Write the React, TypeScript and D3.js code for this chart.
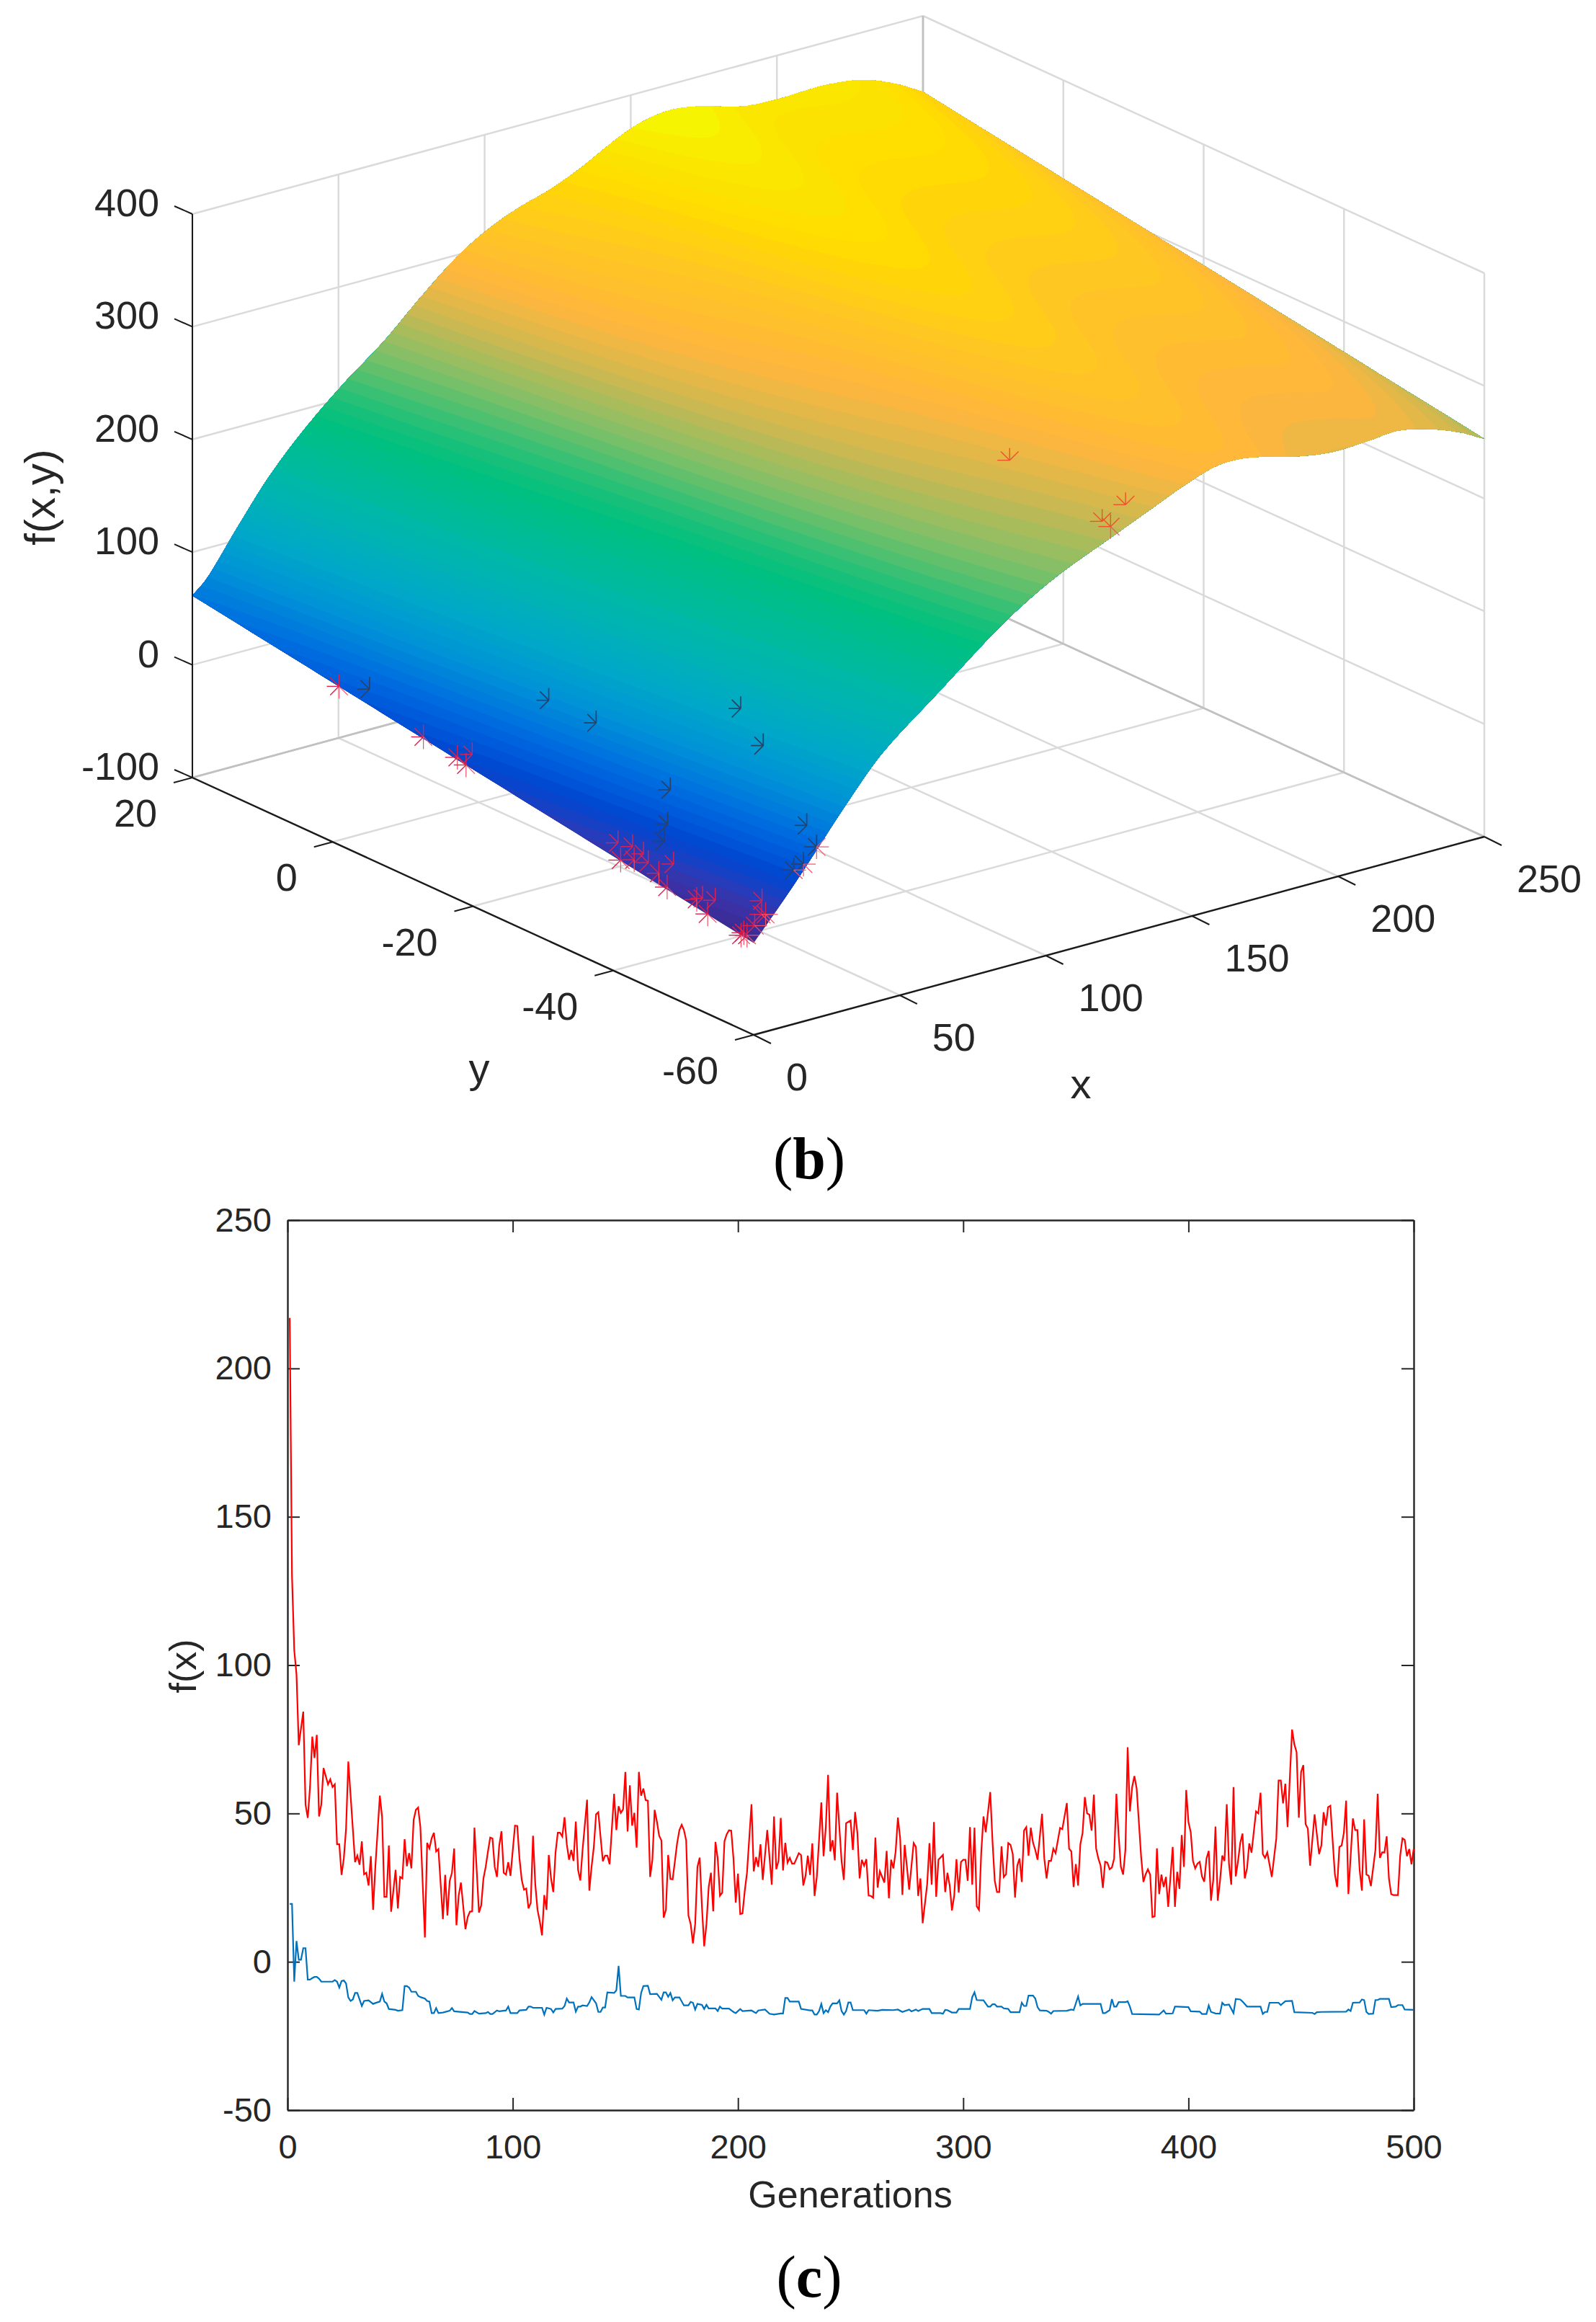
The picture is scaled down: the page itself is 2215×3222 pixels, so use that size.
import React, { useEffect, useRef } from 'react';
import * as d3 from 'd3';

// ---- (b) surface, values
const xTicks = [0, 50, 100, 150, 200, 250];
const yTicks = [20, 0, -20, -40, -60];
const zTicks = [-100, 0, 100, 200, 300, 400];

// height of the surface along the y=-60 edge
const nearX = [0, 13.6, 32.5, 44, 63, 86, 103, 122, 136, 148.4, 158.8, 169.4, 185, 197.4, 209.8, 220, 229.7, 241.3, 250];
const nearZ = [-18.5, 23, 85, 119, 159, 206, 233, 255, 271, 285, 293.6, 293, 283, 278, 279, 281, 276, 265, 253];
// height of the surface along the y=20 edge
const farX = [0, 5.2, 15.5, 25.9, 37.9, 51.7, 65.5, 77.6, 89.9, 100.2, 110.6, 122.7, 133, 143.3, 152, 162.3, 172.7, 188.4, 200.5, 215.8, 228.8, 240, 250];
const farZ = [61.5, 74, 111.5, 147.5, 181, 213, 241, 270, 297, 314, 326, 336, 347.6, 362, 372, 377, 374, 363, 361, 362, 358, 347, 332.5];

const colorZ = [-18, 0, 12, 25, 50, 80, 110, 150, 190, 205, 235, 265, 290, 320, 345, 365, 377];
const colorHex = ['#3b2a8e', '#3c33a8', '#1f3fc0', '#0046d0', '#0068e0', '#0090d8', '#00a8c8', '#00b8a8', '#00c080', '#20c078', '#80c068', '#d0b850', '#ffb63c', '#ffc820', '#ffdc00', '#fae800', '#f4f800'];
const colorLevels = 64;

// population markers, [x, y]
const navyPoints = [[3, -4], [18.7, -23], [19.8, -29.3], [36.6, -42.9], [32.8, -47.7], [16.6, -41.2], [10.9, -43.2], [7.8, -44], [24.4, -57.4], [22, -59.8], [18, -59.6], [16.1, -59]];
const redPoints = [[0, -0.9], [0.3, -12.8], [0.4, -17.6], [0, -19], [2.6, -18.8], [2.8, -39.5], [3.7, -41.2], [3.6, -42.8], [2.6, -43.9], [1.6, -42.3], [0.1, -41], [1.9, -45.7], [5, -46.5], [0.4, -47.5], [2.2, -51.8], [3.2, -53.2], [1.4, -51.3], [0.1, -53.4], [7.9, -57.9], [6, -59.2], [5.6, -58.8], [3, -58.9], [0.6, -58.8], [0.7, -58.3], [0, -58.2]];
const orangePoints = [[126, -44], [133, -57.6], [125, -57.6], [125, -58.8]];

// ---- (c) convergence curves, [generation, f(x)]
const genTicks = [0, 100, 200, 300, 400, 500];
const fTicks = [-50, 0, 50, 100, 150, 200, 250];

const redCurve = [[1, 217], [2, 130], [3, 105], [4, 96.8], [5, 73], [7, 84.3], [8, 53], [9, 48.5], [10, 58.9], [11, 75.9], [12, 68.7], [13, 76.5], [14, 49], [15, 53], [16, 65.3], [18, 59.8], [19, 61.5], [20, 58.9], [21, 59.8], [22, 39.6], [23, 39.6], [24, 29.3], [25, 34.8], [26, 44.9], [27, 67.5], [30, 33.6], [31, 35.8], [32, 32.7], [33, 40.6], [34, 29.5], [35, 30], [36, 25.7], [37, 35.6], [38, 17.5], [39, 32], [41, 56], [42, 48.8], [43, 21.9], [44, 21.9], [45, 39.2], [46, 16.9], [48, 31], [49, 18], [50, 28.6], [51, 28.1], [52, 41.3], [53, 32.2], [54, 36.6], [55, 31.5], [56, 47.8], [57, 51.2], [58, 52], [59, 45.4], [61, 8.2], [62, 40.1], [63, 38.2], [64, 41.6], [65, 43.5], [66, 37.2], [67, 38], [69, 14.4], [70, 29.3], [71, 15.6], [72, 27.2], [73, 30], [74, 38.2], [75, 12.3], [76, 22.3], [77, 26.7], [79, 11], [80, 15.1], [81, 16.9], [82, 17], [83, 45.2], [85, 16.6], [86, 19], [87, 28.1], [88, 32], [89, 37.2], [90, 41.9], [91, 41.6], [92, 32], [93, 28.6], [94, 39.2], [95, 44], [96, 30], [97, 29.4], [98, 33.6], [99, 29], [101, 45.9], [102, 45.8], [103, 34.8], [104, 27.6], [105, 24.3], [106, 24.7], [107, 18], [108, 19.9], [109, 42.5], [110, 26.2], [111, 17.5], [112, 13.7], [113, 8.9], [114, 22.5], [115, 17.5], [116, 36], [117, 28.1], [118, 23.5], [119, 36.8], [120, 43.5], [121, 43.5], [122, 42.2], [123, 48.7], [124, 39.6], [125, 34.4], [126, 37.7], [127, 34], [128, 47.3], [129, 31], [130, 27.4], [131, 37.7], [133, 54.6], [134, 24], [135, 32], [136, 38.7], [137, 49.7], [138, 50.4], [139, 42], [140, 33.9], [141, 35.8], [142, 35.8], [143, 32.9], [145, 56.6], [146, 44.4], [147, 52.4], [148, 50.2], [149, 51.4], [150, 64], [151, 43.9], [152, 59.5], [153, 45.9], [154, 50.2], [155, 38.5], [156, 64], [157, 56], [158, 58.4], [159, 54.5], [160, 54.3], [161, 28.6], [162, 34.4], [163, 51.2], [164, 47.3], [165, 42.5], [166, 40.9], [167, 14.9], [168, 17.5], [169, 36], [170, 27.9], [171, 27.8], [172, 33.9], [173, 40.1], [174, 44.4], [175, 46.2], [176, 44.4], [177, 40.9], [178, 15.6], [179, 12.7], [180, 6.2], [181, 12.7], [182, 32], [183, 35.1], [184, 18.5], [185, 5.2], [186, 12.7], [187, 25.2], [188, 30], [189, 17], [190, 40.4], [191, 34.8], [192, 22.3], [193, 23.3], [194, 40.6], [195, 43], [196, 44.3], [197, 44.2], [198, 34.8], [199, 19.9], [200, 29.7], [201, 16.1], [202, 16.3], [203, 23.8], [204, 30], [206, 53.1], [207, 30.5], [208, 35.3], [209, 32], [210, 39.6], [211, 27.6], [213, 44.4], [215, 26], [216, 49], [217, 31.2], [218, 34], [219, 48.5], [220, 30.8], [221, 40.1], [222, 33.4], [223, 35], [224, 33.1], [225, 33.1], [226, 34.8], [227, 36.6], [228, 36], [229, 25.7], [230, 29], [231, 35.8], [232, 29.3], [233, 39.9], [234, 22.2], [235, 28.6], [237, 53.7], [238, 35.6], [239, 45.4], [240, 63], [241, 37.2], [242, 41], [243, 34.2], [244, 57], [245, 45.4], [246, 33.9], [247, 27.6], [248, 46.7], [250, 47.6], [251, 37.7], [252, 50.5], [253, 43.5], [254, 28.1], [255, 34.4], [256, 32.4], [257, 34.6], [258, 22.3], [259, 22.2], [260, 21.6], [261, 41.9], [262, 25], [263, 30.5], [265, 26.7], [266, 37.4], [267, 21.4], [268, 34.4], [269, 31.5], [270, 37.2], [271, 48.6], [272, 41.6], [273, 22.5], [274, 39.4], [275, 32], [276, 24.3], [278, 40], [279, 38.7], [280, 22.2], [281, 28.1], [282, 13], [284, 26.2], [285, 40], [286, 26], [287, 47.1], [288, 21.9], [289, 34.4], [291, 36], [292, 23.5], [293, 30], [294, 25.7], [295, 17.3], [296, 22.3], [297, 34.6], [298, 23.3], [299, 33.6], [300, 34.4], [301, 34.4], [302, 27.3], [303, 45.4], [304, 26], [305, 45.2], [306, 18.7], [307, 17.5], [308, 36.8], [309, 49], [310, 43.7], [312, 57.2], [313, 40.6], [314, 27.3], [315, 23.5], [316, 23.5], [317, 38.9], [318, 28.6], [319, 29.5], [320, 40], [321, 39.4], [322, 36.3], [323, 21.7], [324, 32.4], [325, 34.8], [326, 26.9], [327, 44.2], [328, 45.4], [329, 35.8], [330, 45.2], [331, 40.1], [332, 37.7], [333, 34.4], [335, 49.9], [336, 34.8], [337, 28.1], [338, 34], [339, 34], [340, 38.1], [341, 36.6], [343, 45.1], [344, 44.7], [346, 53.5], [347, 38.1], [348, 37.2], [349, 25.2], [350, 32.9], [351, 25.7], [352, 39.6], [353, 43.5], [354, 55.5], [355, 50], [356, 49.6], [357, 44.2], [358, 56.3], [359, 38.2], [360, 34.8], [361, 32.4], [362, 24.9], [363, 33.7], [364, 33.4], [365, 31.2], [366, 31.8], [367, 34.8], [368, 56.6], [369, 42.5], [370, 32], [371, 29.4], [372, 37.7], [373, 72.3], [374, 50.7], [375, 58.9], [376, 62.6], [377, 58.4], [379, 35.3], [380, 26.9], [381, 29.5], [382, 31.2], [383, 29.3], [384, 15.1], [385, 15.3], [386, 38.2], [387, 22.8], [388, 29.4], [389, 25.2], [390, 28.6], [391, 18.5], [393, 38.7], [394, 18.5], [395, 30.3], [396, 24.6], [397, 42.7], [398, 32], [399, 57.9], [400, 47.1], [401, 43.7], [402, 34], [403, 31.5], [404, 33.1], [405, 33.7], [406, 28.8], [407, 27], [408, 34.8], [409, 37.4], [410, 20.6], [411, 27.6], [412, 45.6], [413, 20.6], [414, 27.2], [415, 35.8], [416, 34], [417, 53.1], [418, 32.9], [419, 26], [420, 58.9], [421, 28.8], [422, 33.9], [423, 40.1], [424, 43.2], [425, 28.1], [426, 31.5], [427, 39.9], [428, 36.8], [430, 50.7], [431, 50], [432, 57], [433, 36.3], [434, 35], [435, 36.9], [437, 28.6], [439, 41.6], [440, 61.1], [441, 61.1], [442, 53.4], [443, 60], [444, 45.4], [446, 78.3], [447, 73.3], [448, 70.7], [449, 48.6], [450, 64], [451, 66.3], [452, 46.4], [453, 44.9], [454, 32.4], [456, 49.7], [458, 36.3], [459, 39.2], [460, 50.4], [461, 45.9], [462, 52.1], [463, 52.6], [465, 29.5], [466, 25.2], [467, 38.7], [468, 39.2], [469, 43.5], [470, 54.3], [471, 22.8], [473, 48.3], [474, 44.4], [475, 44.4], [476, 31], [477, 24], [478, 48], [479, 29.4], [480, 29], [481, 25.5], [483, 37.7], [484, 56.6], [485, 35], [486, 36.9], [487, 36.8], [488, 42.3], [489, 28.1], [490, 22.8], [491, 22.5], [493, 22.5], [494, 35.8], [495, 41.6], [496, 41.1], [497, 35.6], [498, 38], [499, 32.9], [500, 38]];

const blueCurve = [[1, 19.5], [2, 19.5], [3, -6.7], [4, 7], [5, 0.7], [6, 0.7], [7, 4.6], [8, 4.6], [9, -6], [10, -6], [11, -5.5], [12, -5.1], [13, -5.1], [14, -5.7], [15, -6.7], [20, -6.7], [21, -6.2], [22, -6.7], [23, -8.7], [24, -6.5], [25, -6.3], [26, -7.3], [27, -12], [28, -13.2], [29, -12.7], [30, -10.5], [31, -10.5], [32, -12.7], [33, -14.9], [34, -13.2], [36, -13], [38, -14.2], [39, -13.9], [41, -13.4], [42, -10.8], [43, -13.4], [44, -14], [45, -15.9], [48, -16.2], [49, -16.5], [51, -16.3], [52, -8.2], [53, -8.2], [54, -8.7], [55, -10.1], [57, -10.1], [58, -11.5], [59, -11.9], [61, -12.4], [62, -13.2], [63, -13.4], [64, -17.3], [65, -17.3], [66, -15.6], [67, -17.3], [69, -17.1], [72, -16.5], [73, -15.6], [74, -16.7], [80, -17.1], [81, -17.6], [82, -17.6], [83, -16.6], [85, -17.5], [88, -17.3], [89, -16.9], [90, -17.6], [91, -17.6], [93, -16.4], [94, -16.7], [97, -16.4], [98, -15.1], [99, -17.3], [102, -17.3], [103, -16.4], [106, -16.2], [107, -15.1], [108, -15.1], [109, -15.5], [113, -15.5], [114, -17.8], [115, -15.5], [117, -15.9], [118, -17.1], [119, -15.9], [122, -15.8], [123, -14.9], [124, -12.4], [125, -13.7], [127, -13.7], [128, -16.8], [129, -15.1], [130, -15.1], [131, -14.7], [133, -14.9], [134, -13.7], [135, -11.9], [137, -14], [138, -16.9], [139, -16.9], [140, -15.4], [141, -15.4], [142, -10.3], [145, -10.5], [146, -9.6], [147, -1.4], [148, -11.5], [150, -11.5], [151, -12], [154, -12], [155, -15.9], [156, -16.1], [157, -10.5], [158, -8.2], [160, -8.1], [161, -10.9], [164, -10.8], [166, -12.8], [167, -10.3], [168, -10.3], [169, -11.8], [170, -10.5], [171, -13], [172, -12], [174, -12], [176, -14.7], [178, -14.7], [179, -13.5], [180, -13.8], [181, -16.1], [182, -14.2], [184, -14.5], [185, -15.9], [186, -14.5], [187, -15.7], [190, -15.7], [191, -16.6], [192, -15.1], [193, -15.8], [196, -15.8], [198, -16.9], [199, -17.3], [201, -15.9], [202, -16.6], [206, -16.4], [208, -17.3], [209, -16.4], [212, -16.1], [214, -17.5], [216, -17.8], [219, -17.4], [220, -17.4], [221, -12.2], [222, -12.2], [223, -13.4], [227, -13.4], [228, -15.9], [232, -16.4], [233, -16.4], [234, -17.8], [235, -17.8], [236, -16.6], [237, -14.2], [238, -17.3], [239, -16.3], [240, -17], [241, -15.1], [242, -14], [244, -14], [245, -13], [246, -16.6], [247, -17.8], [248, -16.6], [249, -13.7], [250, -13.7], [251, -16.3], [256, -16.3], [257, -17.5], [258, -16.3], [262, -16.5], [264, -16.2], [269, -16.3], [271, -16.1], [273, -16.9], [276, -16.1], [277, -16.7], [279, -16.1], [280, -16.6], [282, -15.9], [285, -15.9], [286, -17.3], [290, -17.3], [291, -17.5], [292, -16.2], [293, -16.3], [295, -17.1], [297, -17.1], [298, -15.9], [303, -15.9], [304, -11.9], [305, -10.3], [306, -12.9], [309, -13], [311, -15.1], [312, -15.1], [313, -14.3], [314, -14.3], [315, -15.1], [317, -15.1], [318, -15.7], [320, -15.9], [321, -17], [325, -17], [326, -13.8], [327, -14.9], [328, -14.9], [329, -11.4], [331, -11.4], [332, -12.4], [333, -15.3], [334, -16.4], [337, -16.5], [338, -16.9], [339, -17.5], [340, -16.6], [346, -16.5], [348, -16.1], [349, -16.3], [351, -11.7], [352, -14.7], [353, -14.2], [361, -14.2], [362, -17.3], [363, -17.3], [365, -16.3], [366, -12.6], [367, -15.1], [368, -15.1], [369, -13.6], [372, -13.6], [373, -13.3], [374, -15.1], [375, -17.6], [387, -17.8], [389, -16.4], [390, -17.5], [393, -17.4], [394, -15.1], [395, -15.1], [400, -15.3], [401, -16.7], [405, -16.8], [406, -17.6], [408, -17.6], [409, -14.7], [410, -16.9], [412, -17.4], [414, -17.5], [415, -13.8], [416, -14.6], [418, -14.4], [420, -17.3], [421, -12.5], [423, -12.7], [424, -13.4], [426, -15.1], [432, -15.1], [433, -17.6], [434, -16.9], [435, -16.9], [436, -13.8], [440, -13.8], [441, -14.6], [443, -13.3], [446, -13.2], [447, -17], [455, -17.2], [456, -17.6], [457, -17], [459, -16.9], [470, -16.8], [471, -16.1], [472, -16.6], [473, -13.8], [476, -13.7], [477, -12.7], [478, -12.9], [479, -16.9], [480, -17.6], [482, -17.5], [483, -12.9], [484, -12.9], [485, -12.5], [489, -12.5], [490, -15.3], [492, -15.1], [493, -14.6], [495, -14.6], [496, -16.1], [500, -16.2]];

// catmull-rom through the read points, keeps the edges smooth
const smoothEdge = (xs: number[], zs: number[]) => (x: number) => {
  const i = Math.min(xs.length - 2, Math.max(0, d3.bisectRight(xs, x) - 1));
  const h = xs[i + 1] - xs[i];
  const t = (x - xs[i]) / h;
  const slope = (k: number) => {
    const a = Math.max(0, k - 1), b = Math.min(xs.length - 1, k + 1);
    return (zs[b] - zs[a]) / (xs[b] - xs[a]);
  };
  const t2 = t * t, t3 = t2 * t;
  return (2 * t3 - 3 * t2 + 1) * zs[i] + (t3 - 2 * t2 + t) * h * slope(i) + (-2 * t3 + 3 * t2) * zs[i + 1] + (t3 - t2) * h * slope(i + 1);
};
const nearAt = smoothEdge(nearX, nearZ);
const farAt = smoothEdge(farX, farZ);
const surfaceZ = (x: number, y: number) => nearAt(x) + ((y + 60) / 80) * (farAt(x) - nearAt(x));

const App = () => {
  const svgRef = useRef<SVGSVGElement>(null);

  useEffect(() => {
    const svg = d3.select(svgRef.current);
    svg.selectAll('*').remove();
    const sans = '"Liberation Sans", Arial, sans-serif';
    const ink = '#262626';

    // ---------- panel (b): parallel projection of the 3D box
    const xToPx = d3.scaleLinear([0, 250], [0, 1014]);
    const xToPy = d3.scaleLinear([0, 250], [0, -275]);
    const yToPx = d3.scaleLinear([-60, 20], [0, -779]);
    const yToPy = d3.scaleLinear([-60, 20], [0, -357]);
    const zToPy = d3.scaleLinear([-100, 400], [0, -782]);
    const project = (x: number, y: number, z: number): [number, number] => [
      1046 + xToPx(x) + yToPx(y),
      1436 + xToPy(x) + yToPy(y) + zToPy(z),
    ];
    const colour = d3.scaleLinear<string>().domain(colorZ).range(colorHex).clamp(true);

    const box = svg.append('g');
    const seg = (g: any, a: [number, number], b: [number, number], stroke: string, w: number) =>
      g.append('line').attr('x1', a[0]).attr('y1', a[1]).attr('x2', b[0]).attr('y2', b[1])
        .attr('stroke', stroke).attr('stroke-width', w);

    const grid = '#dadada';
    xTicks.forEach(x => {
      seg(box, project(x, -60, -100), project(x, 20, -100), grid, 2.5);
      seg(box, project(x, 20, -100), project(x, 20, 400), grid, 2.5);
    });
    yTicks.forEach(y => {
      seg(box, project(0, y, -100), project(250, y, -100), grid, 2.5);
      seg(box, project(250, y, -100), project(250, y, 400), grid, 2.5);
    });
    zTicks.forEach(z => {
      seg(box, project(0, 20, z), project(250, 20, z), grid, 2.5);
      seg(box, project(250, 20, z), project(250, -60, z), grid, 2.5);
    });
    seg(box, project(0, 20, -100), project(250, 20, -100), '#c0c0c0', 2.5);
    seg(box, project(250, 20, -100), project(250, -60, -100), '#c0c0c0', 2.5);
    seg(box, project(250, 20, -100), project(250, 20, 400), '#c0c0c0', 2.5);

    // surface: filled colour bands, one per colormap level, from d3.contours on an x-y grid
    const gridX = d3.range(0, 250.5, 1);
    const gridY = d3.range(-60, 20.5, 1);
    const heights: number[] = [];
    gridY.forEach(y => gridX.forEach(x => heights.push(surfaceZ(x, y))));
    const zLo = d3.min(heights) as number;
    const zHi = d3.max(heights) as number;
    const step = (zHi - zLo) / colorLevels;
    const levels = d3.range(colorLevels).map(k => zLo - 0.01 + k * step);
    const bands = d3.contours().size([gridX.length, gridY.length]).thresholds(levels)(heights);
    const toScreen = d3.geoTransform({
      point(cx: number, cy: number) {
        const x = Math.max(0, Math.min(250, cx - 0.5));
        const y = Math.max(-60, Math.min(20, -60 + cy - 0.5));
        const p = project(x, y, surfaceZ(x, y));
        this.stream.point(p[0], p[1]);
      },
    });
    const bandPath = d3.geoPath(toScreen);
    svg.append('g').selectAll('path').data(bands).join('path')
      .attr('d', (d: any) => bandPath(d))
      .attr('fill', (d: any) => colour(d.value + step / 2));

    // silhouette of the surface, used to tell which marker rays stick out of it
    const outline: [number, number][] = [
      ...d3.range(0, 251, 5).map(x => project(x, -60, nearAt(x))),
      ...d3.range(250, -1, -5).map(x => project(x, 20, farAt(x))),
    ];

    const rayLen = 17;
    const diag = rayLen * 0.72;
    const frontRays = [[0, -rayLen], [-rayLen, 0], [-diag, -diag], [-diag, diag]];
    const backRays = [[0, rayLen], [rayLen, 0], [diag, diag], [diag, -diag]];
    const drawMarkers = (points: number[][], rays: number[][], stroke: string, w: number) => {
      points.forEach(([x, y]) => {
        const c = project(x, y, surfaceZ(x, y));
        rays.forEach(r => seg(svg, c, [c[0] + r[0], c[1] + r[1]], stroke, w));
        backRays.forEach(r => {
          const end: [number, number] = [c[0] + r[0], c[1] + r[1]];
          if (!d3.polygonContains(outline, end)) seg(svg, c, end, '#f2506a', 1.2);
        });
      });
    };
    drawMarkers(navyPoints, frontRays, '#2a4268', 1.7);
    drawMarkers(redPoints, frontRays, '#e0204e', 1.4);
    drawMarkers(orangePoints, [[0, -rayLen], [-rayLen, 0], [-diag, -diag], [diag, -diag]], '#f0502a', 1.4);

    // black axes
    const black = '#1a1a1a';
    seg(svg, project(0, 20, -100), project(0, 20, 400), black, 2);
    seg(svg, project(0, 20, -100), project(0, -60, -100), black, 2.4);
    seg(svg, project(0, -60, -100), project(250, -60, -100), black, 2.4);
    zTicks.forEach(z => {
      const a = project(0, 20, z);
      seg(svg, a, [a[0] - 25, a[1] - 11], black, 2);
      svg.append('text').attr('x', a[0] - 46).attr('y', a[1] + 3).attr('text-anchor', 'end')
        .attr('font-family', sans).attr('font-size', 54).attr('fill', ink).text(z);
    });
    yTicks.forEach(y => {
      const a = project(0, y, -100);
      seg(svg, a, [a[0] - 26, a[1] + 7], black, 2);
      svg.append('text').attr('x', a[0] - 49).attr('y', a[1] + 68).attr('text-anchor', 'end')
        .attr('font-family', sans).attr('font-size', 54).attr('fill', ink).text(y);
    });
    xTicks.forEach(x => {
      const a = project(x, -60, -100);
      seg(svg, a, [a[0] + 24, a[1] + 12], black, 2);
      svg.append('text').attr('x', a[0] + 45).attr('y', a[1] + 77).attr('text-anchor', 'start')
        .attr('font-family', sans).attr('font-size', 54).attr('fill', ink).text(x);
    });
    svg.append('text').attr('x', 665).attr('y', 1502).attr('text-anchor', 'middle')
      .attr('font-family', sans).attr('font-size', 58).attr('fill', ink).text('y');
    svg.append('text').attr('x', 1500).attr('y', 1524).attr('text-anchor', 'middle')
      .attr('font-family', sans).attr('font-size', 58).attr('fill', ink).text('x');
    svg.append('text').attr('transform', 'translate(76,690) rotate(-90)').attr('text-anchor', 'middle')
      .attr('font-family', sans).attr('font-size', 60).attr('fill', ink).text('f(x,y)');

    // ---------- panel (c)
    const left = 399, right = 1962, top = 1693, bottom = 2928;
    const gen = d3.scaleLinear([0, 500], [left, right]);
    const fx = d3.scaleLinear([-50, 250], [bottom, top]);

    const styleAxis = (g: any) => {
      g.selectAll('path').attr('stroke', ink).attr('stroke-width', 2.4);
      g.selectAll('line').attr('stroke', ink).attr('stroke-width', 2);
      g.selectAll('text').attr('font-family', sans).attr('font-size', 47).attr('fill', ink);
    };
    const plain = (d: any) => String(d);
    svg.append('g').attr('transform', `translate(0,${bottom})`)
      .call(d3.axisBottom(gen).tickValues(genTicks).tickSizeInner(-17).tickSizeOuter(0).tickPadding(34).tickFormat(plain))
      .call(styleAxis);
    svg.append('g').attr('transform', `translate(0,${top})`)
      .call(d3.axisTop(gen).tickValues(genTicks).tickSizeInner(-17).tickSizeOuter(0).tickFormat(() => ''))
      .call(styleAxis);
    svg.append('g').attr('transform', `translate(${left},0)`)
      .call(d3.axisLeft(fx).tickValues(fTicks).tickSizeInner(-17).tickSizeOuter(0).tickPadding(22).tickFormat(plain))
      .call(styleAxis);
    svg.append('g').attr('transform', `translate(${right},0)`)
      .call(d3.axisRight(fx).tickValues(fTicks).tickSizeInner(-17).tickSizeOuter(0).tickFormat(() => ''))
      .call(styleAxis);

    const curve = d3.line<number[]>().x(d => gen(d[0])).y(d => fx(d[1]));
    svg.append('path').attr('d', curve(blueCurve)).attr('fill', 'none').attr('stroke', '#0072BD').attr('stroke-width', 2.2);
    svg.append('path').attr('d', curve(redCurve)).attr('fill', 'none').attr('stroke', '#ff0000').attr('stroke-width', 2.2);

    svg.append('text').attr('x', 1180).attr('y', 3063).attr('text-anchor', 'middle')
      .attr('font-family', sans).attr('font-size', 52).attr('fill', ink).text('Generations');
    svg.append('text').attr('transform', 'translate(272,2312) rotate(-90)').attr('text-anchor', 'middle')
      .attr('font-family', sans).attr('font-size', 52).attr('fill', ink).text('f(x)');

    // ---------- captions
    const caption = (letter: string, cx: number, y: number) => {
      const t = svg.append('text').attr('x', cx).attr('y', y).attr('text-anchor', 'middle')
        .attr('font-family', '"Liberation Serif", serif').attr('font-size', 82).attr('fill', '#000');
      t.append('tspan').text('(');
      t.append('tspan').attr('font-weight', 'bold').text(letter);
      t.append('tspan').text(')');
    };
    caption('b', 1123, 1635);
    caption('c', 1123, 3187);
  }, []);

  return <svg ref={svgRef} width={2215} height={3222} style={{ position: 'absolute', left: 0, top: 0, background: '#fff' }} />;
};

export default App;
